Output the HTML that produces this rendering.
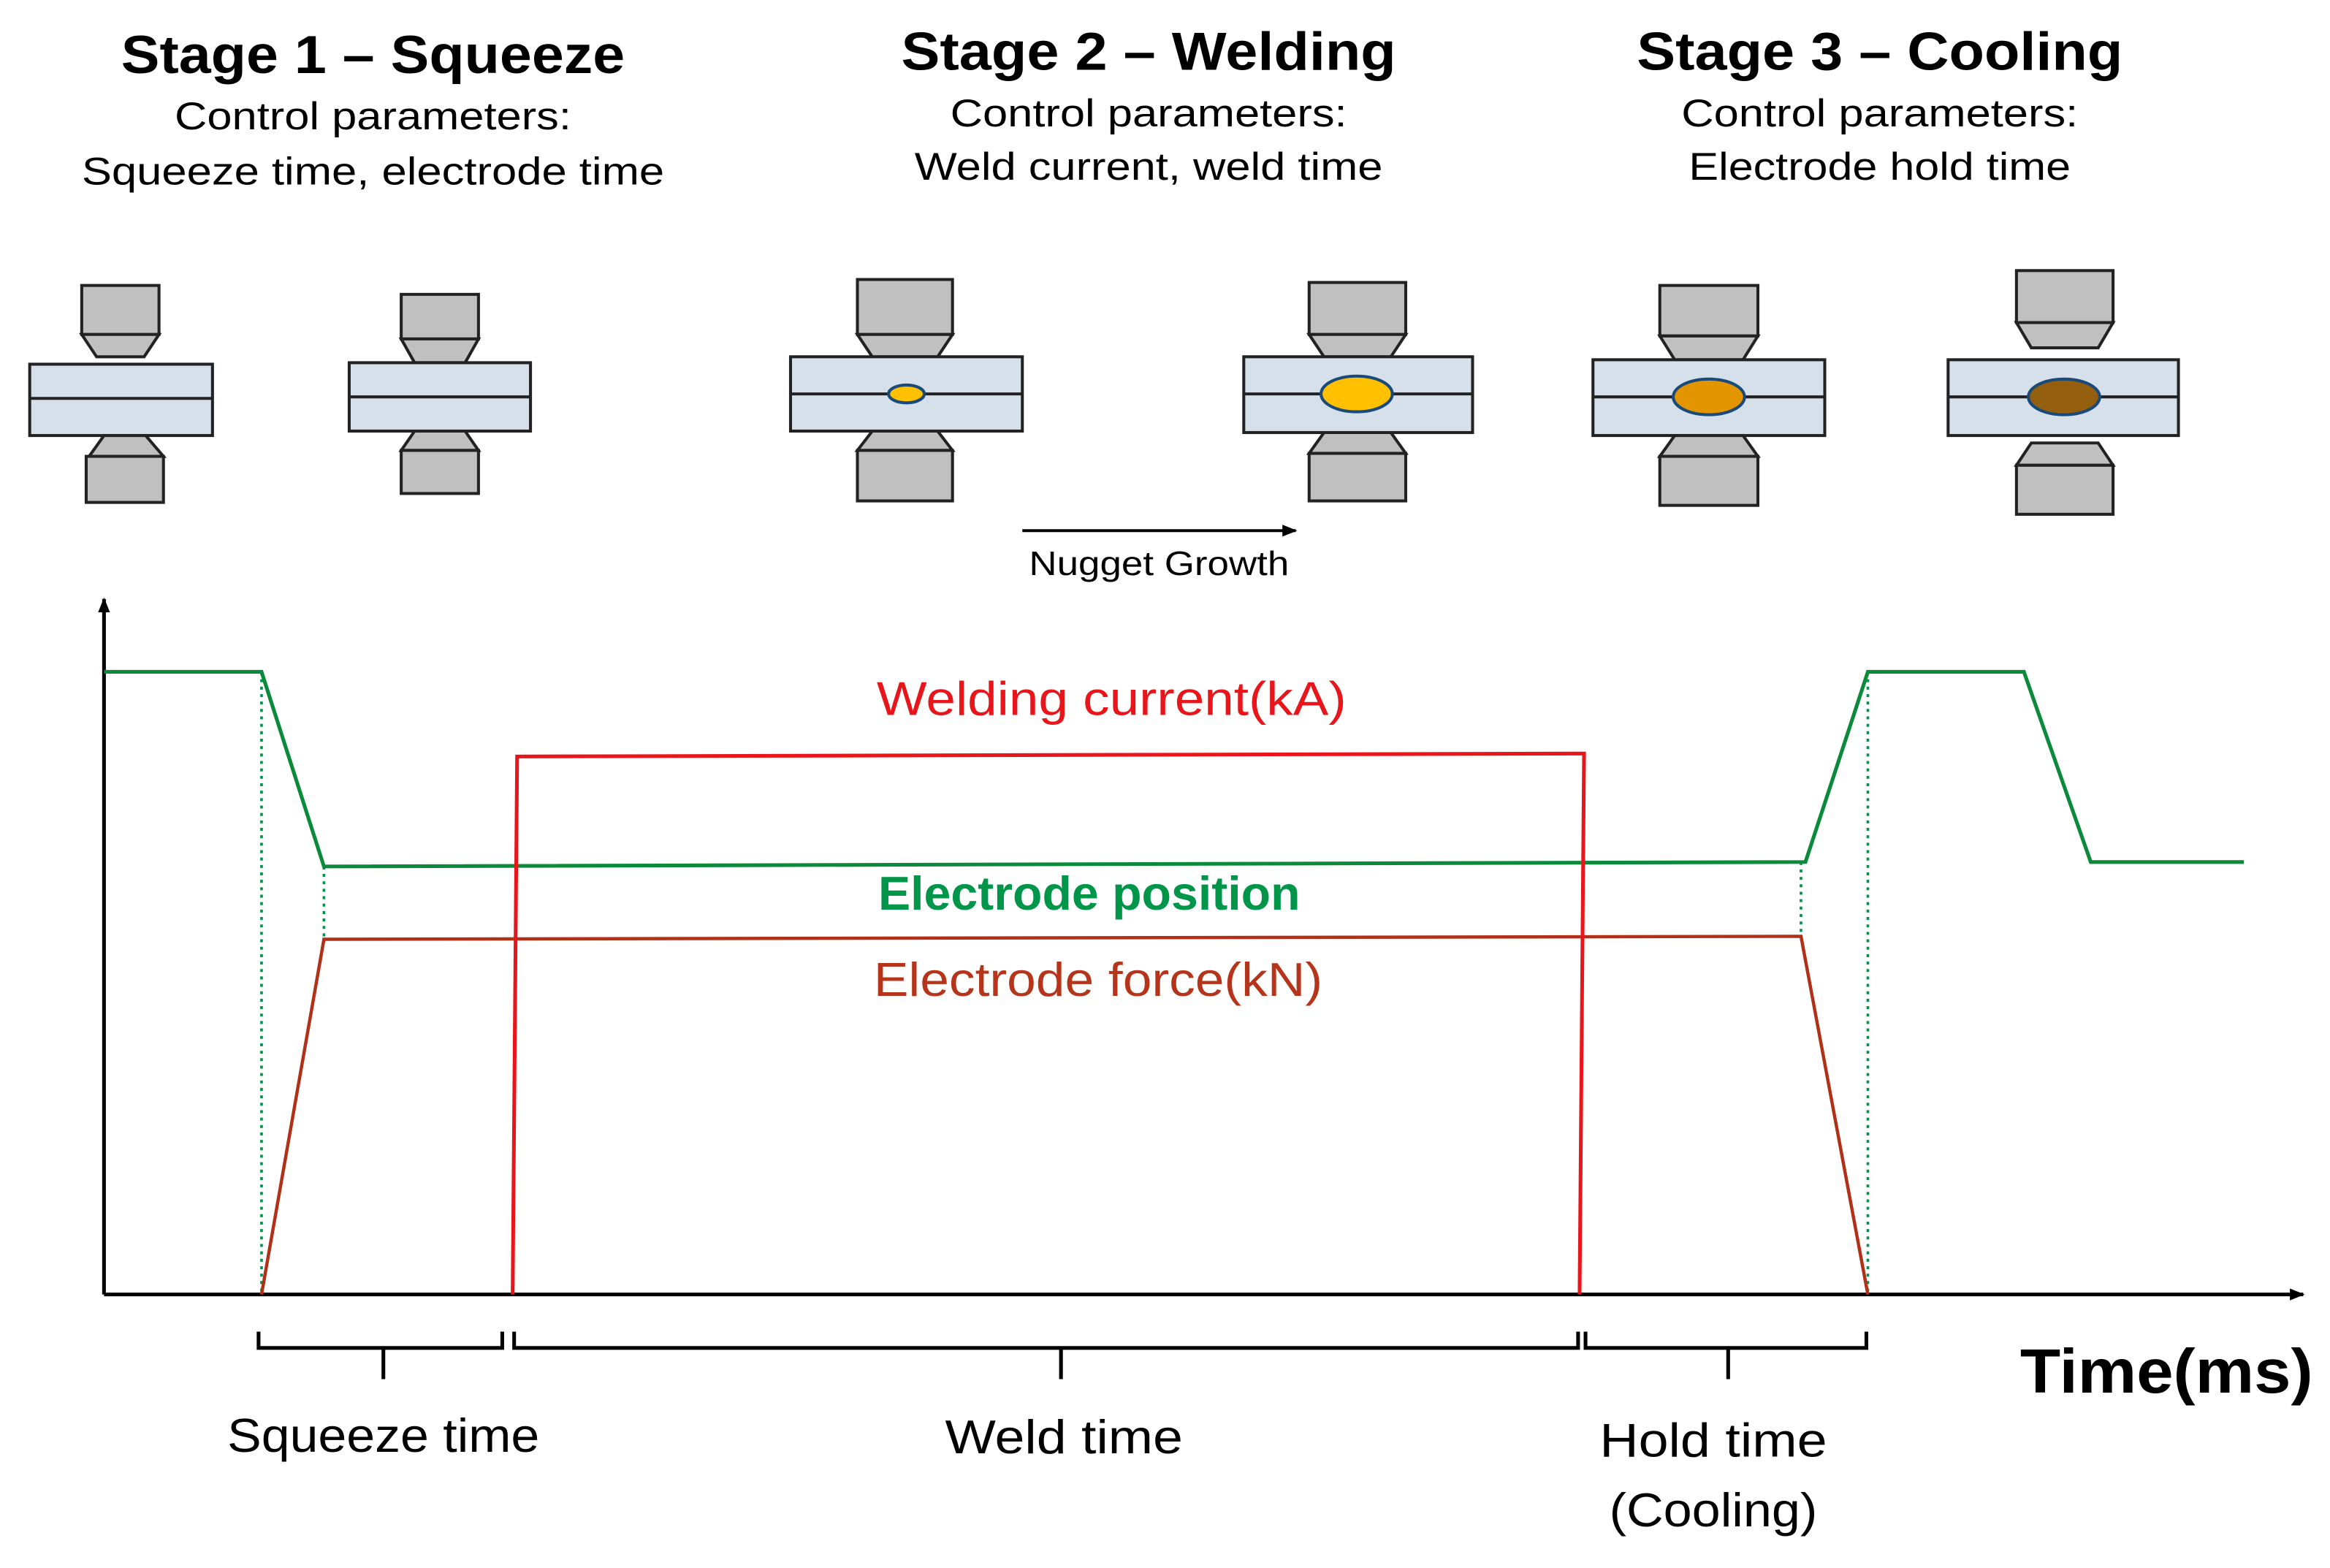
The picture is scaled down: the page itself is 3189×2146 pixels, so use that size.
<!DOCTYPE html>
<html><head><meta charset="utf-8"><style>html,body{margin:0;padding:0;background:#fff}svg{display:block}</style></head>
<body>
<svg width="3189" height="2146" viewBox="0 0 1568 1055" xmlns="http://www.w3.org/2000/svg" font-family="Liberation Sans, sans-serif">
<defs>
<marker id="ar" markerWidth="10" markerHeight="10" refX="9" refY="5" orient="auto" markerUnits="userSpaceOnUse"><path d="M0,1 L10,5 L0,9 Z" fill="#000"/></marker>
</defs>
<rect width="1568" height="1055" fill="#fff"/>
<g text-anchor="middle" fill="#000" lengthAdjust="spacingAndGlyphs">
<text x="251" y="49" font-size="36" font-weight="bold" textLength="339" lengthAdjust="spacingAndGlyphs">Stage 1 – Squeeze</text>
<text x="251" y="87" font-size="26" textLength="267" lengthAdjust="spacingAndGlyphs">Control parameters:</text>
<text x="251" y="124" font-size="26" textLength="392" lengthAdjust="spacingAndGlyphs">Squeeze time, electrode time</text>
<text x="773" y="47" font-size="36" font-weight="bold" textLength="333" lengthAdjust="spacingAndGlyphs">Stage 2 – Welding</text>
<text x="773" y="85" font-size="26" textLength="267" lengthAdjust="spacingAndGlyphs">Control parameters:</text>
<text x="773" y="121" font-size="26" textLength="315" lengthAdjust="spacingAndGlyphs">Weld current, weld time</text>
<text x="1265" y="47" font-size="36" font-weight="bold" textLength="327" lengthAdjust="spacingAndGlyphs">Stage 3 – Cooling</text>
<text x="1265" y="85" font-size="26" textLength="267" lengthAdjust="spacingAndGlyphs">Control parameters:</text>
<text x="1265" y="121" font-size="26" textLength="257" lengthAdjust="spacingAndGlyphs">Electrode hold time</text>
</g>
<g stroke="#222" stroke-width="2" fill="#c0c0c0">
<rect x="55" y="192" width="52" height="33"/><path d="M55,225 L107,225 L97,240 L65,240 Z"/>
<rect x="20" y="245" width="123" height="48" fill="#d5e0ea"/><line x1="20" y1="268" x2="143" y2="268"/>
<path d="M70,293 L98,293 L110,307 L60,307 Z"/><rect x="58" y="307" width="52" height="31"/>
<rect x="270" y="198" width="52" height="30"/><path d="M270,228 L322,228 L313,244 L279,244 Z"/>
<rect x="235" y="244" width="122" height="46" fill="#d5e0ea"/><line x1="235" y1="267" x2="357" y2="267"/>
<path d="M279,290 L313,290 L322,303 L270,303 Z"/><rect x="270" y="303" width="52" height="29"/>
<rect x="577" y="188" width="64" height="37"/><path d="M577,225 L641,225 L631,240 L587,240 Z"/>
<rect x="532" y="240" width="156" height="50" fill="#d5e0ea"/><line x1="532" y1="265" x2="688" y2="265"/>
<ellipse cx="610" cy="265" rx="12" ry="6" fill="#FFC000" stroke="#1a4a7a"/>
<path d="M587,290 L631,290 L641,303 L577,303 Z"/><rect x="577" y="303" width="64" height="34"/>
<rect x="881" y="190" width="65" height="35"/><path d="M881,225 L946,225 L936,240 L891,240 Z"/>
<rect x="837" y="240" width="154" height="51" fill="#d5e0ea"/><line x1="837" y1="265" x2="991" y2="265"/>
<ellipse cx="913" cy="265" rx="24" ry="12" fill="#FFC000" stroke="#1a4a7a"/>
<path d="M891,291 L936,291 L946,305 L881,305 Z"/><rect x="881" y="305" width="65" height="32"/>
<rect x="1117" y="192" width="66" height="34"/><path d="M1117,226 L1183,226 L1173,242 L1127,242 Z"/>
<rect x="1072" y="242" width="156" height="51" fill="#d5e0ea"/><line x1="1072" y1="267" x2="1228" y2="267"/>
<ellipse cx="1150" cy="267" rx="24" ry="12" fill="#E39500" stroke="#1a4a7a"/>
<path d="M1127,293 L1173,293 L1183,307 L1117,307 Z"/><rect x="1117" y="307" width="66" height="33"/>
<rect x="1357" y="182" width="65" height="35"/><path d="M1357,217 L1422,217 L1412,234 L1367,234 Z"/>
<rect x="1311" y="242" width="155" height="51" fill="#d5e0ea"/><line x1="1311" y1="267" x2="1466" y2="267"/>
<ellipse cx="1389" cy="267" rx="24" ry="12" fill="#955F10" stroke="#1a4a7a"/>
<path d="M1367,298 L1412,298 L1422,313 L1357,313 Z"/><rect x="1357" y="313" width="65" height="33"/>
</g>
<line x1="688" y1="357" x2="872" y2="357" stroke="#000" stroke-width="2" marker-end="url(#ar)"/>
<text x="780" y="387" font-size="23" text-anchor="middle" textLength="175" lengthAdjust="spacingAndGlyphs">Nugget Growth</text>
<line x1="70" y1="871" x2="70" y2="403" stroke="#000" stroke-width="2.5" marker-end="url(#ar)"/>
<line x1="70" y1="871" x2="1550" y2="871" stroke="#000" stroke-width="2.5" marker-end="url(#ar)"/>
<g stroke="#00964A" stroke-width="1.8" stroke-dasharray="2,3">
<line x1="176" y1="452" x2="176" y2="871"/><line x1="218" y1="583" x2="218" y2="632"/>
<line x1="1212" y1="580" x2="1212" y2="630"/><line x1="1257" y1="452" x2="1257" y2="871"/>
</g>
<polyline points="70,452 176,452 218,583 1215,580 1257,452 1362,452 1407,580 1510,580" fill="none" stroke="#0a8a3a" stroke-width="2.5"/>
<polyline points="176,871 218,632 1212,630 1257,871" fill="none" stroke="#B03018" stroke-width="2.2"/>
<polyline points="345,871 348,509 1066,507 1063,871" fill="none" stroke="#E8151B" stroke-width="2.5"/>
<text x="748" y="481" font-size="32" fill="#E8151B" text-anchor="middle" textLength="316" lengthAdjust="spacingAndGlyphs">Welding current(kA)</text>
<text x="733" y="612" font-size="32" fill="#00964A" text-anchor="middle" font-weight="bold" textLength="284" lengthAdjust="spacingAndGlyphs">Electrode position</text>
<text x="739" y="670" font-size="32" fill="#B5341A" text-anchor="middle" textLength="302" lengthAdjust="spacingAndGlyphs">Electrode force(kN)</text>
<g fill="none" stroke="#000" stroke-width="2.5">
<path d="M174,896 V907 H338 V896 M258,907 V928"/>
<path d="M346,896 V907 H1062 V896 M714,907 V928"/>
<path d="M1067,896 V907 H1256 V896 M1163,907 V928"/>
</g>
<g font-size="32" text-anchor="middle" fill="#000">
<text x="258" y="977" textLength="210" lengthAdjust="spacingAndGlyphs">Squeeze time</text>
<text x="716" y="978" textLength="160" lengthAdjust="spacingAndGlyphs">Weld time</text>
<text x="1153" y="980" textLength="153" lengthAdjust="spacingAndGlyphs">Hold time</text>
<text x="1153" y="1027" textLength="140" lengthAdjust="spacingAndGlyphs">(Cooling)</text>
</g>
<text x="1458" y="937" font-size="42" font-weight="bold" text-anchor="middle" textLength="197" lengthAdjust="spacingAndGlyphs">Time(ms)</text>
</svg>
</body></html>
